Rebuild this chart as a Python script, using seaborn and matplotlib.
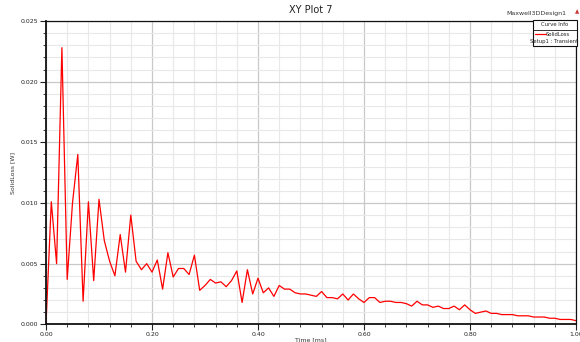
import numpy as np
import pandas as pd
import matplotlib
matplotlib.use("Agg")
import matplotlib.pyplot as plt
import seaborn as sns
from matplotlib.patches import Rectangle
from matplotlib.lines import Line2D
from matplotlib.ticker import MultipleLocator, FormatStrFormatter

# ---- data (time in ms, loss in W) ----
time_ms = [round(0.01 * i, 2) for i in range(101)]
solid_loss = [
    0.0000, 0.0101, 0.0050, 0.0228, 0.0037, 0.0100, 0.0140, 0.0019, 0.0101, 0.0036,
    0.0103, 0.0069, 0.0052, 0.0040, 0.0074, 0.0043, 0.0090, 0.0052, 0.0045, 0.0050,
    0.0043, 0.0053, 0.0029, 0.0059, 0.0039, 0.0046, 0.0046, 0.0041, 0.0057, 0.0028,
    0.0032, 0.0037, 0.0034, 0.0035, 0.0031, 0.0036, 0.0044, 0.0018, 0.0045, 0.0025,
    0.0038, 0.0026, 0.0030, 0.0023, 0.0032, 0.0029, 0.0029, 0.0026, 0.0025, 0.0025,
    0.0024, 0.0023, 0.0027, 0.0022, 0.0022, 0.0021, 0.0025, 0.0020, 0.0025, 0.0021,
    0.0018, 0.0022, 0.0022, 0.0018, 0.0019, 0.0019, 0.0018, 0.0018, 0.0017, 0.0015,
    0.0019, 0.0016, 0.0016, 0.0014, 0.0015, 0.0013, 0.0013, 0.0015, 0.0012, 0.0016,
    0.0012, 0.0009, 0.0010, 0.0011, 0.0009, 0.0009, 0.0008, 0.0008, 0.0008, 0.0007,
    0.0007, 0.0007, 0.0006, 0.0006, 0.0006, 0.0005, 0.0005, 0.0004, 0.0004, 0.0004,
    0.0003,
]

df = pd.DataFrame({"Time [ms]": time_ms, "SolidLoss [W]": solid_loss})

sns.set_style("white")
plt.rcParams["font.family"] = ["DejaVu Sans"]

fig = plt.figure(figsize=(5.8, 3.42), dpi=100)
ax = fig.add_axes([46 / 580, 1 - 324.3 / 342, 530 / 580, 303.3 / 342])

sns.lineplot(data=df, x="Time [ms]", y="SolidLoss [W]", color="#ff0000",
             linewidth=0.9, ax=ax)

ax.set_xlim(0, 1.0)
ax.set_ylim(0, 0.025)
ax.xaxis.set_major_locator(MultipleLocator(0.2))
ax.xaxis.set_minor_locator(MultipleLocator(0.04))
ax.yaxis.set_major_locator(MultipleLocator(0.005))
ax.yaxis.set_minor_locator(MultipleLocator(0.001))
ax.xaxis.set_major_formatter(FormatStrFormatter("%.2f"))
ax.yaxis.set_major_formatter(FormatStrFormatter("%.3f"))

ax.grid(which="major", color="#c8c8c8", linewidth=0.9)
ax.grid(which="minor", color="#e8e8e8", linewidth=0.8)
ax.set_axisbelow(True)

ax.tick_params(which="major", direction="out", length=4, width=0.8,
               labelsize=4.5, colors="#222222", pad=1.5, left=True, bottom=True)
ax.tick_params(which="minor", direction="out", length=2.5, width=0.6,
               left=True, bottom=True, colors="#222222")

for side in ["top", "right", "left", "bottom"]:
    ax.spines[side].set_color("#111111")
ax.spines["left"].set_linewidth(1.3)
ax.spines["bottom"].set_linewidth(1.3)
ax.spines["top"].set_linewidth(0.9)
ax.spines["right"].set_linewidth(0.9)

ax.set_xlabel("Time [ms]", fontsize=4.5, color="#333333", labelpad=0.5)
ax.set_ylabel("SolidLoss [W]", fontsize=4.5, color="#333333", labelpad=4)
ax.set_title("XY Plot 7", fontsize=7, color="#222222", pad=6)

# design name, top right
fig.text(566 / 580, 1 - 13 / 342, "Maxwell3DDesign1", fontsize=4.5,
         color="#333333", ha="right", va="center")
fig.text(577 / 580, 1 - 12 / 342, "\u25b2", fontsize=4, color="#cc3333",
         ha="center", va="center")

# curve info box
bx0, bx1, by0, by1 = 533 / 580, 576.5 / 580, 1 - 46 / 342, 1 - 20.5 / 342
fig.patches.append(Rectangle((bx0, by0), bx1 - bx0, by1 - by0, transform=fig.transFigure,
                             facecolor="white", edgecolor="#111111", linewidth=0.8,
                             zorder=5))
fig.lines.append(Line2D([bx0, bx1], [1 - 29.5 / 342] * 2, transform=fig.transFigure,
                        color="#111111", linewidth=0.6, zorder=6))
fig.text((bx0 + bx1) / 2, 1 - 25 / 342, "Curve Info", fontsize=3.8, color="#222222",
         ha="center", va="center", zorder=7)
fig.lines.append(Line2D([534.5 / 580, 545.5 / 580], [1 - 34 / 342] * 2,
                        transform=fig.transFigure, color="#ff0000", linewidth=0.9,
                        zorder=6))
fig.text(558 / 580, 1 - 34 / 342, "SolidLoss", fontsize=3.8, color="#222222",
         ha="center", va="center", zorder=7)
fig.text(554.5 / 580, 1 - 41.5 / 342, "Setup1 : Transient", fontsize=3.8,
         color="#222222", ha="center", va="center", zorder=7)

fig.savefig("out.png", dpi=100)
